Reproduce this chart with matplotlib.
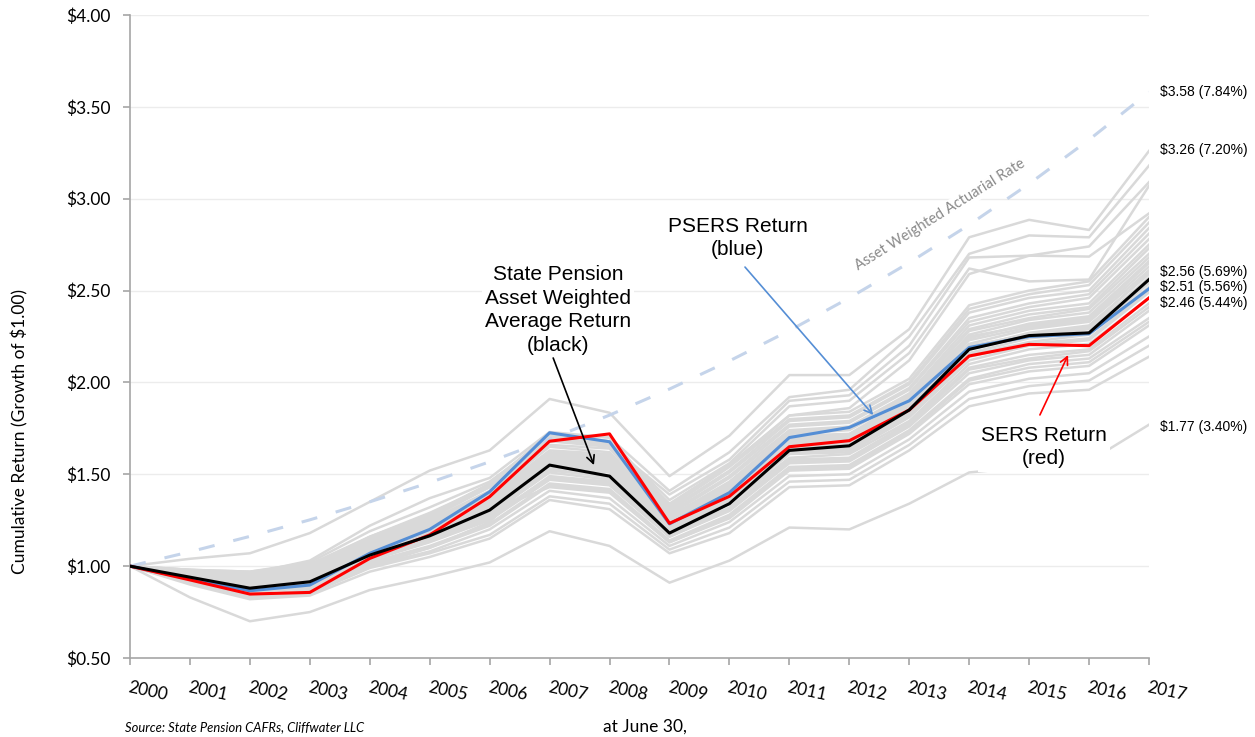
import matplotlib.pyplot as plt
from matplotlib.ticker import FuncFormatter

years = list(range(2000, 2018))

# growth of $1.00 at fiscal year end (June 30)
avg_return = [1.00, 0.94, 0.88, 0.915, 1.06, 1.165, 1.305, 1.55, 1.49, 1.18,
              1.34, 1.63, 1.655, 1.85, 2.18, 2.255, 2.27, 2.56]
psers_return = [1.00, 0.93, 0.866, 0.897, 1.07, 1.20, 1.405, 1.726, 1.677, 1.23,
                1.40, 1.70, 1.755, 1.90, 2.19, 2.25, 2.265, 2.51]
sers_return = [1.00, 0.925, 0.848, 0.857, 1.042, 1.17, 1.378, 1.68, 1.72, 1.233,
               1.38, 1.65, 1.683, 1.85, 2.144, 2.207, 2.20, 2.46]
actuarial_rate = [1.00, 1.078, 1.162, 1.252, 1.350, 1.455, 1.568, 1.691, 1.822, 1.964,
                  2.117, 2.282, 2.460, 2.652, 2.858, 3.081, 3.321, 3.58]

# individual state pension plans
state_funds = [
    [1.00, 1.04, 1.07, 1.18, 1.35, 1.52, 1.63, 1.91, 1.835, 1.49, 1.71, 2.04, 2.04, 2.29, 2.79, 2.885, 2.83, 3.26],
    [1.00, 0.97, 0.96, 1.03, 1.22, 1.37, 1.48, 1.73, 1.70, 1.41, 1.62, 1.92, 1.96, 2.25, 2.70, 2.80, 2.79, 3.18],
    [1.00, 0.98, 0.97, 1.02, 1.19, 1.32, 1.46, 1.70, 1.66, 1.39, 1.58, 1.90, 1.93, 2.20, 2.68, 2.69, 2.74, 3.09],
    [1.00, 0.97, 0.95, 1.00, 1.16, 1.29, 1.44, 1.72, 1.68, 1.36, 1.56, 1.87, 1.90, 2.16, 2.62, 2.55, 2.56, 3.07],
    [1.00, 0.96, 0.94, 0.99, 1.15, 1.28, 1.43, 1.68, 1.66, 1.34, 1.55, 1.82, 1.86, 2.12, 2.59, 2.69, 2.685, 2.92],
    [1.00, 0.90, 0.82, 0.84, 0.97, 1.05, 1.15, 1.36, 1.31, 1.07, 1.18, 1.43, 1.44, 1.63, 1.87, 1.94, 1.96, 2.14],
    [1.00, 0.91, 0.83, 0.85, 0.99, 1.07, 1.17, 1.38, 1.34, 1.09, 1.21, 1.46, 1.47, 1.66, 1.91, 1.98, 2.01, 2.20],
    [1.00, 0.91, 0.84, 0.87, 1.00, 1.08, 1.20, 1.41, 1.37, 1.11, 1.24, 1.49, 1.50, 1.69, 1.95, 2.02, 2.05, 2.25],
    [1.00, 0.94, 0.90, 0.93, 1.07, 1.17, 1.30, 1.43, 1.40, 1.13, 1.26, 1.52, 1.53, 1.72, 1.99, 2.06, 2.09, 2.31],
    [1.00, 0.92, 0.86, 0.89, 1.02, 1.11, 1.23, 1.45, 1.42, 1.14, 1.28, 1.54, 1.55, 1.74, 2.02, 2.10, 2.13, 2.35],
    [1.00, 0.93, 0.87, 0.90, 1.03, 1.13, 1.25, 1.47, 1.44, 1.16, 1.30, 1.56, 1.57, 1.76, 2.05, 2.12, 2.15, 2.39],
    [1.00, 0.93, 0.88, 0.90, 1.04, 1.14, 1.26, 1.49, 1.46, 1.17, 1.32, 1.58, 1.59, 1.78, 2.08, 2.15, 2.18, 2.43],
    [1.00, 0.93, 0.88, 0.91, 1.05, 1.15, 1.28, 1.51, 1.47, 1.18, 1.34, 1.59, 1.61, 1.79, 2.10, 2.18, 2.21, 2.46],
    [1.00, 0.94, 0.89, 0.92, 1.06, 1.16, 1.29, 1.52, 1.49, 1.19, 1.35, 1.61, 1.62, 1.81, 2.12, 2.20, 2.23, 2.49],
    [1.00, 0.94, 0.90, 0.93, 1.07, 1.17, 1.30, 1.54, 1.51, 1.20, 1.37, 1.63, 1.64, 1.83, 2.15, 2.22, 2.26, 2.52],
    [1.00, 0.94, 0.90, 0.93, 1.07, 1.17, 1.31, 1.55, 1.52, 1.21, 1.38, 1.64, 1.65, 1.84, 2.16, 2.24, 2.27, 2.54],
    [1.00, 0.91, 0.84, 0.86, 1.00, 1.10, 1.24, 1.56, 1.53, 1.22, 1.39, 1.65, 1.66, 1.85, 2.18, 2.25, 2.29, 2.57],
    [1.00, 0.95, 0.91, 0.94, 1.08, 1.19, 1.33, 1.57, 1.54, 1.22, 1.40, 1.66, 1.68, 1.86, 2.19, 2.27, 2.31, 2.59],
    [1.00, 0.95, 0.91, 0.95, 1.09, 1.19, 1.34, 1.58, 1.55, 1.23, 1.41, 1.67, 1.69, 1.87, 2.21, 2.29, 2.33, 2.61],
    [1.00, 0.95, 0.92, 0.95, 1.09, 1.20, 1.35, 1.59, 1.56, 1.24, 1.42, 1.68, 1.70, 1.88, 2.23, 2.30, 2.34, 2.63],
    [1.00, 0.95, 0.92, 0.96, 1.10, 1.21, 1.35, 1.60, 1.58, 1.25, 1.43, 1.70, 1.71, 1.90, 2.24, 2.32, 2.36, 2.66],
    [1.00, 0.96, 0.93, 0.96, 1.10, 1.21, 1.36, 1.61, 1.59, 1.25, 1.44, 1.71, 1.72, 1.91, 2.26, 2.34, 2.38, 2.68],
    [1.00, 0.96, 0.93, 0.97, 1.11, 1.22, 1.37, 1.62, 1.60, 1.26, 1.45, 1.72, 1.74, 1.92, 2.28, 2.35, 2.40, 2.70],
    [1.00, 0.96, 0.94, 0.97, 1.12, 1.23, 1.38, 1.63, 1.61, 1.27, 1.46, 1.73, 1.75, 1.93, 2.29, 2.37, 2.41, 2.73],
    [1.00, 0.96, 0.94, 0.98, 1.12, 1.23, 1.39, 1.65, 1.62, 1.28, 1.48, 1.74, 1.76, 1.94, 2.31, 2.39, 2.43, 2.75],
    [1.00, 0.97, 0.95, 0.98, 1.13, 1.24, 1.40, 1.66, 1.64, 1.29, 1.49, 1.76, 1.78, 1.96, 2.33, 2.41, 2.46, 2.78],
    [1.00, 0.97, 0.95, 0.99, 1.14, 1.25, 1.41, 1.68, 1.65, 1.30, 1.51, 1.77, 1.79, 1.97, 2.35, 2.43, 2.48, 2.81],
    [1.00, 0.97, 0.96, 1.00, 1.14, 1.26, 1.43, 1.69, 1.67, 1.31, 1.52, 1.79, 1.81, 1.99, 2.38, 2.46, 2.50, 2.84],
    [1.00, 0.98, 0.96, 1.00, 1.15, 1.27, 1.44, 1.71, 1.68, 1.32, 1.54, 1.80, 1.82, 2.00, 2.40, 2.48, 2.53, 2.87],
    [1.00, 0.98, 0.97, 1.01, 1.16, 1.28, 1.45, 1.72, 1.70, 1.33, 1.55, 1.82, 1.84, 2.02, 2.42, 2.50, 2.55, 2.90],
    [1.00, 0.93, 0.87, 0.91, 1.05, 1.16, 1.29, 1.53, 1.48, 1.19, 1.36, 1.62, 1.63, 1.82, 2.14, 2.21, 2.24, 2.50],
    [1.00, 0.95, 0.90, 0.94, 1.08, 1.18, 1.32, 1.57, 1.53, 1.21, 1.39, 1.66, 1.67, 1.86, 2.20, 2.26, 2.30, 2.60],
    [1.00, 0.96, 0.92, 0.95, 1.10, 1.20, 1.34, 1.60, 1.57, 1.24, 1.43, 1.69, 1.71, 1.89, 2.25, 2.31, 2.35, 2.65],
    [1.00, 0.94, 0.89, 0.92, 1.06, 1.15, 1.27, 1.48, 1.45, 1.16, 1.31, 1.57, 1.58, 1.77, 2.07, 2.13, 2.17, 2.41],
    [1.00, 0.92, 0.86, 0.88, 1.01, 1.10, 1.22, 1.44, 1.41, 1.13, 1.27, 1.53, 1.54, 1.73, 2.01, 2.08, 2.11, 2.33],
    [1.00, 0.83, 0.70, 0.75, 0.87, 0.94, 1.02, 1.19, 1.11, 0.91, 1.03, 1.21, 1.20, 1.34, 1.51, 1.54, 1.57, 1.77],
]

end_labels = ["$3.58 (7.84%)", "$3.26 (7.20%)", "$2.56 (5.69%)",
              "$2.51 (5.56%)", "$2.46 (5.44%)", "$1.77 (3.40%)"]
end_label_y = [3.58, 3.265, 2.60, 2.52, 2.43, 1.76]

plt.rcParams['font.family'] = ['Lato', 'DejaVu Sans']
ARIAL = ['Liberation Sans', 'DejaVu Sans']
GREY = '#d9d9d9'
BLUE = '#558ed5'
RED = '#ff0000'
AXIS = '#a6a6a6'
BOX = dict(boxstyle='square,pad=0.15', fc='white', ec='none')

fig = plt.figure(figsize=(12.55, 7.37), dpi=100)
ax = fig.add_axes([130 / 1255, 79 / 737, 1019 / 1255, 643 / 737])

for fund in state_funds:
    ax.plot(years, fund, color=GREY, lw=1.8, zorder=2)
ax.plot(years, actuarial_rate, color='#c5d4ea', lw=2.2, dashes=(5.3, 6.3), zorder=3)
ax.plot(years, psers_return, color=BLUE, lw=2.2, zorder=4)
ax.plot(years, sers_return, color=RED, lw=2.2, zorder=5)
ax.plot(years, avg_return, color='black', lw=2.2, zorder=6)

ax.set_xlim(2000, 2017)
ax.set_ylim(0.5, 4.0)
ax.set_yticks([0.5, 1.0, 1.5, 2.0, 2.5, 3.0, 3.5, 4.0])
ax.yaxis.set_major_formatter(FuncFormatter(lambda v, p: "${:.2f}".format(v)))
ax.set_xticks(years)
ax.set_xticklabels([str(y) for y in years])
for lab in ax.get_xticklabels():
    lab.set_rotation(-12)
    lab.set_ha('left')
    lab.set_va('top')
    lab.set_rotation_mode('anchor')
ax.tick_params(axis='both', colors=AXIS, labelcolor='black', labelsize=12.5,
               length=5, width=1.2)
ax.tick_params(axis='y', pad=9)
ax.tick_params(axis='x', pad=10)
ax.yaxis.grid(True, color='#ececec', lw=1)
ax.set_axisbelow(True)
for side in ['top', 'right']:
    ax.spines[side].set_visible(False)
for side in ['left', 'bottom']:
    ax.spines[side].set_color(AXIS)
    ax.spines[side].set_linewidth(1.2)

# callouts
ax.text(2007.14, 2.394, "State Pension\nAsset Weighted\nAverage Return\n(black)",
        ha='center', va='center', fontsize=15, family=ARIAL, linespacing=1.32,
        bbox=BOX, zorder=10)
ax.annotate('', xy=(2007.74, 1.55), xytext=(2007.06, 2.133),
            arrowprops=dict(arrowstyle='->', color='black', lw=1.2,
                            shrinkA=0, shrinkB=0, mutation_scale=14), zorder=10)

ax.text(2010.14, 2.786, "PSERS Return\n(blue)", ha='center', va='center',
        fontsize=15, family=ARIAL, linespacing=1.32, bbox=BOX, zorder=10)
ax.annotate('', xy=(2012.40, 1.823), xytext=(2010.26, 2.628),
            arrowprops=dict(arrowstyle='->', color=BLUE, lw=1.2,
                            shrinkA=0, shrinkB=0, mutation_scale=14), zorder=10)

ax.text(2015.25, 1.648, "SERS Return\n(red)", ha='center', va='center',
        fontsize=15, family=ARIAL, linespacing=1.32, bbox=BOX, zorder=10)
ax.annotate('', xy=(2015.65, 2.149), xytext=(2015.18, 1.823),
            arrowprops=dict(arrowstyle='->', color=RED, lw=1.2,
                            shrinkA=0, shrinkB=0, mutation_scale=14), zorder=10)

ax.text(2013.51, 2.911, "Asset Weighted Actuarial Rate", rotation=32,
        ha='center', va='center', fontsize=10.5, color='#8a8a8a',
        bbox=dict(boxstyle='square,pad=0.1', fc='white', ec='none'), zorder=7)

for label, y in zip(end_labels, end_label_y):
    ax.text(2017.18, y, label, ha='left', va='center', fontsize=10,
            family=ARIAL, clip_on=False)

fig.text(20 / 1255, 1 - 432 / 737, "Cumulative Return (Growth of $1.00)",
         rotation=90, ha='center', va='center', fontsize=12.5)
fig.text(125 / 1255, 1 - 727 / 737, "Source: State Pension CAFRs, Cliffwater LLC",
         style='italic', ha='left', va='center', fontsize=9.4)
fig.text(603 / 1255, 1 - 727 / 737, "at June 30,", ha='left', va='center',
         fontsize=12.5)

fig.savefig("out.png", dpi=100)
